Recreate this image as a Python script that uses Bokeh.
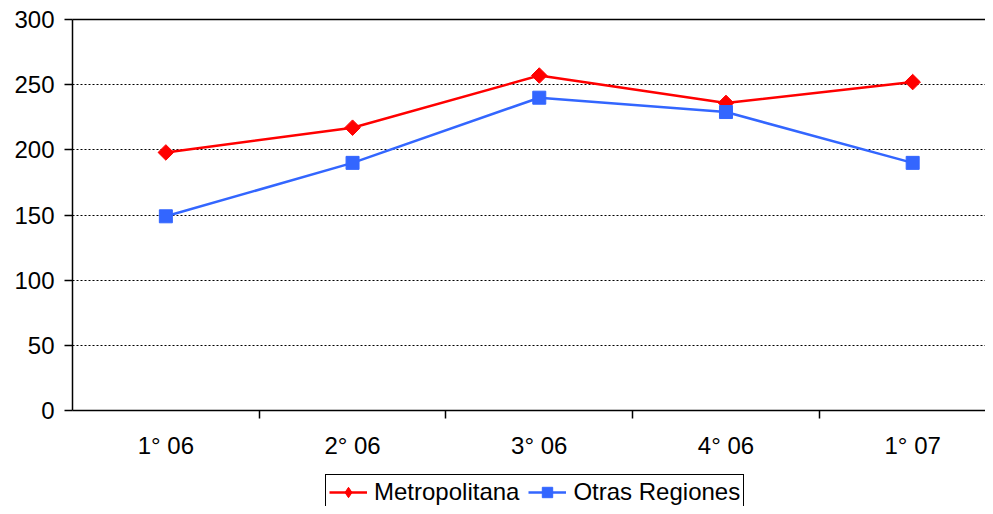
import math
from bokeh.plotting import figure
from bokeh.layouts import column
from bokeh.models import Range1d, FixedTicker, LinearAxis, Legend, LegendItem, Grid
from bokeh.embed import file_html
from bokeh.resources import INLINE

categories = ["1° 06", "2° 06", "3° 06", "4° 06", "1° 07"]
metropolitana = [198, 217, 257, 236, 252]
otras_regiones = [149, 190, 240, 229, 190]
y_ticks = [0, 50, 100, 150, 200, 250, 300]
series_names = ["Metropolitana", "Otras Regiones"]

FONT = "Liberation Sans"
x = [i + 0.5 for i in range(len(categories))]

p = figure(width=985, height=465, output_backend="svg", toolbar_location=None,
           x_range=Range1d(0, 4.89), y_range=Range1d(0, 300),
           min_border_left=72, min_border_right=0, min_border_top=19, min_border_bottom=55,
           x_axis_type=None, y_axis_type=None)
p.outline_line_color = None
p.background_fill_color = "white"

# bottom axis: labels at centers, tick marks at boundaries
xaxis = LinearAxis(ticker=FixedTicker(ticks=x, minor_ticks=list(range(1, len(categories)))),
                   major_label_overrides={v: c for v, c in zip(x, categories)})
xaxis.major_tick_out = 0
xaxis.major_tick_in = 0
xaxis.minor_tick_out = 8
xaxis.minor_tick_in = 0
xaxis.minor_tick_line_color = "black"
xaxis.axis_line_color = "black"
xaxis.axis_line_width = 1.5
xaxis.minor_tick_line_width = 1.5
xaxis.major_label_text_font = FONT
xaxis.major_label_text_font_size = "24px"
xaxis.major_label_text_color = "black"
xaxis.major_label_standoff = 13
p.add_layout(xaxis, "below")

yaxis = LinearAxis(ticker=FixedTicker(ticks=y_ticks, minor_ticks=[]))
yaxis.major_tick_out = 8
yaxis.major_tick_in = 0
yaxis.major_tick_line_width = 1.5
yaxis.axis_line_width = 1.5
yaxis.major_label_text_font = FONT
yaxis.major_label_text_font_size = "24px"
yaxis.major_label_text_color = "black"
yaxis.major_label_standoff = 10
p.add_layout(yaxis, "left")

top = LinearAxis(ticker=FixedTicker(ticks=[]), major_label_text_font_size="0px")
top.axis_line_width = 1.5
top.major_tick_line_color = None
top.minor_tick_line_color = None
p.add_layout(top, "above")

grid = Grid(dimension=1, ticker=FixedTicker(ticks=y_ticks[1:-1]))
grid.grid_line_color = "black"
grid.grid_line_dash = "2 2"
grid.grid_line_width = 1
p.add_layout(grid)

red = "#FF0000"
blue = "#3366FF"
p.line(x, metropolitana, line_color=red, line_width=2.5)
p.scatter(x, metropolitana, marker="square", angle=math.pi / 4, size=11,
          fill_color=red, line_color=red)
p.line(x, otras_regiones, line_color=blue, line_width=2.5)
p.scatter(x, otras_regiones, marker="square", size=13, fill_color=blue, line_color=blue)

# legend in its own strip below the chart (its renderers fall outside this strip's ranges)
lf = figure(width=985, height=41, output_backend="svg", toolbar_location=None,
            x_range=Range1d(0, 1), y_range=Range1d(0, 1),
            min_border_left=0, min_border_right=0, min_border_top=0, min_border_bottom=0,
            x_axis_type=None, y_axis_type=None)
lf.outline_line_color = None
lf.xgrid.visible = False
lf.ygrid.visible = False
dl1 = lf.line(x, metropolitana, line_color=red, line_width=2.5)
dm1 = lf.scatter(x, metropolitana, marker="diamond", size=15, fill_color=red, line_color=red)
dl2 = lf.line(x, otras_regiones, line_color=blue, line_width=2.5)
dm2 = lf.scatter(x, otras_regiones, marker="square", size=11, fill_color=blue, line_color=blue)

legend = Legend(items=[LegendItem(label=series_names[0], renderers=[dl1, dm1]),
                       LegendItem(label=series_names[1], renderers=[dl2, dm2])],
                location=(253, -4), orientation="horizontal")
legend.label_text_font = FONT
legend.label_text_font_size = "24px"
legend.label_text_color = "black"
legend.border_line_color = "black"
legend.border_line_alpha = 1.0
legend.border_line_width = 1
legend.background_fill_alpha = 1.0
legend.padding = 3
legend.margin = 0
legend.spacing = 9
legend.glyph_width = 38
legend.glyph_height = 26
legend.label_height = 26
legend.label_standoff = 7
lf.add_layout(legend, "center")

open("out.html", "w").write(file_html(column(p, lf, spacing=0), INLINE))
